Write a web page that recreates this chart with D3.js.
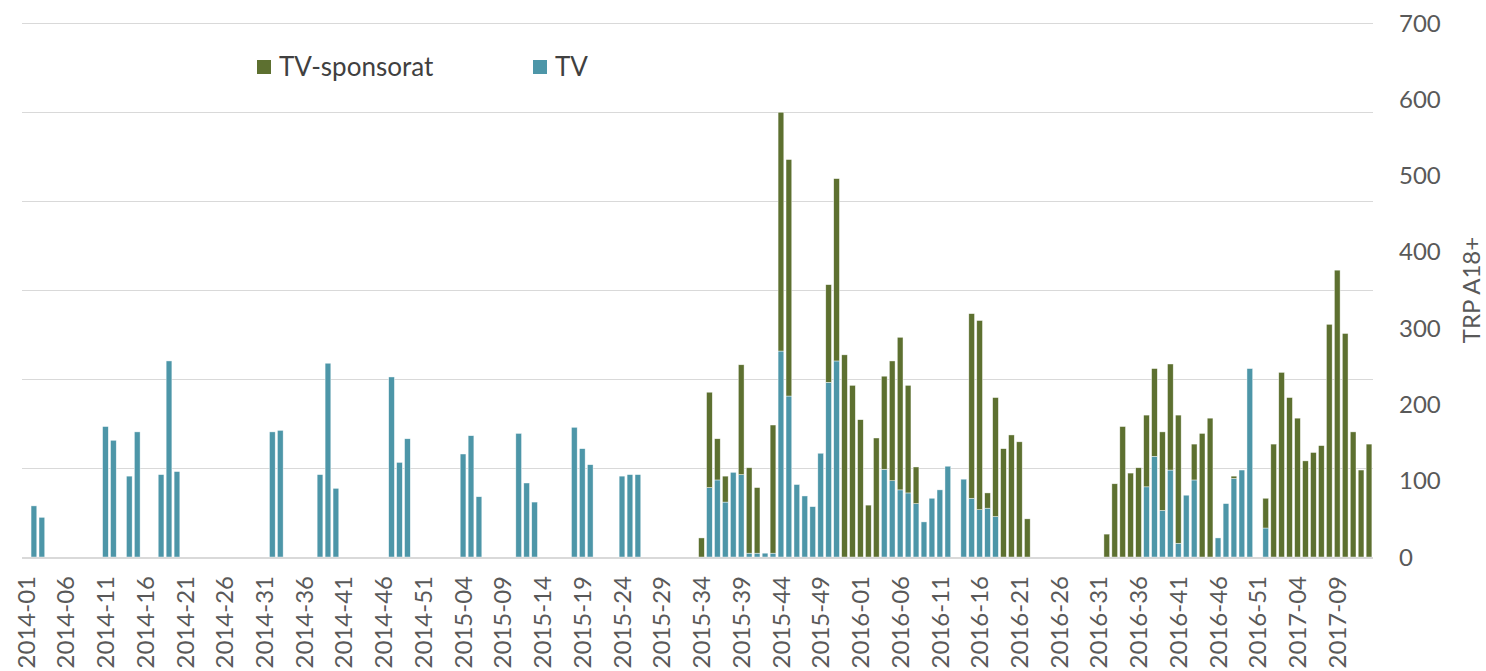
<!DOCTYPE html>
<html>
<head>
<meta charset="utf-8">
<script src="https://cdn.jsdelivr.net/npm/d3@7"></script>
<style>
  html, body { margin: 0; padding: 0; background: #fff; }
  svg { display: block; font-family: Lato, 'Open Sans', sans-serif; }
</style>
</head>
<body>
<div id="chart"></div>
<script>
// weeks per year shown on the category axis (2017 stops at week 13)
const years = [2014, 2015, 2016, 2017];
const weeksInYear = [52, 53, 52, 13];

// tick labels shown every 5th week
const tickLabels = [
  '2014-01','2014-06','2014-11','2014-16','2014-21','2014-26','2014-31','2014-36','2014-41','2014-46','2014-51',
  '2015-04','2015-09','2015-14','2015-19','2015-24','2015-29','2015-34','2015-39','2015-44','2015-49',
  '2016-01','2016-06','2016-11','2016-16','2016-21','2016-26','2016-31','2016-36','2016-41','2016-46','2016-51',
  '2017-04','2017-09'
];

// TRP A18+ per week, TV (bottom of stack)
const tv = [
  // 2014
  0,67,52,0,0,0,0,0,0,0, 171,153,0,106,164,0,0,108,257,112, 0,0,0,0,0,0,0,0,0,0,
  0,164,166,0,0,0,0,108,254,90, 0,0,0,0,0,0,236,124,155,0, 0,0,
  // 2015
  0,0,0,135,159,79,0,0,0,0, 162,97,72,0,0,0,0,170,142,121, 0,0,0,106,108,108,0,0,0,0,
  0,0,0,0,91,101,72,111,108,5, 5,5,5,270,211,95,80,66,136,229, 257,0,0,
  // 2016
  0,0,0,115,100,88,84,70,46,77, 88,119,0,102,77,62,64,53,0,0, 0,0,0,0,0,0,0,0,0,0,
  0,0,0,0,0,0,92,132,61,114, 18,81,101,0,0,25,70,103,114,247, 0,38,
  // 2017
  0,0,0,0,0,0,0,0,0,0, 0,0,0
];

// TRP A18+ per week, TV-sponsorat (top of stack)
const sponsorat = [
  // 2014
  0,0,0,0,0,0,0,0,0,0, 0,0,0,0,0,0,0,0,0,0, 0,0,0,0,0,0,0,0,0,0,
  0,0,0,0,0,0,0,0,0,0, 0,0,0,0,0,0,0,0,0,0, 0,0,
  // 2015
  0,0,0,0,0,0,0,0,0,0, 0,0,0,0,0,0,0,0,0,0, 0,0,0,0,0,0,0,0,0,0,
  0,0,0,25,125,54,34,0,144,112, 86,0,168,313,310,0,0,0,0,128, 239,265,225,
  // 2016
  180,68,156,122,157,200,141,48,0,0, 0,0,0,0,242,248,20,156,142,160, 151,50,0,0,0,0,0,0,0,0,
  0,30,96,171,110,117,94,115,103,139, 168,0,47,162,182,0,0,3,0,0, 0,39,
  // 2017
  148,242,209,182,126,137,146,305,376,293, 164,114,148
];

const seriesNames = ['TV-sponsorat', 'TV'];
const colors = { 'TV-sponsorat': '#5d7030', 'TV': '#4d96a8' };

const rightTicks = [0, 100, 200, 300, 400, 500, 600, 700];
const gridTicks = [0, 100, 200, 300, 400, 500, 600];

// build week categories
const weeks = [];
years.forEach((yr, k) => {
  for (let w = 1; w <= weeksInYear[k]; w++) weeks.push(yr + '-' + String(w).padStart(2, '0'));
});

const rows = weeks.map((wk, i) => ({ week: wk, 'TV': tv[i] || 0, 'TV-sponsorat': sponsorat[i] || 0 }));

const width = 1486, height = 671;
const plotLeft = 22, plotRight = 1373, plotTop = 23, plotBottom = 557;

const svg = d3.select('#chart').append('svg')
  .attr('width', width).attr('height', height);

const x = d3.scaleBand().domain(weeks).range([plotLeft, plotRight]).paddingInner(0.28).paddingOuter(0.14);
const y = d3.scaleLinear().domain([0, 700]).range([plotBottom, plotTop]);
// gridlines follow a hidden primary axis with its own division
const yGrid = d3.scaleLinear().domain([0, 600]).range([plotBottom, plotTop]);

// gridlines
svg.append('g').selectAll('line')
  .data(gridTicks.slice(1))
  .join('line')
  .attr('x1', plotLeft).attr('x2', plotRight)
  .attr('y1', d => yGrid(d) + 0.5).attr('y2', d => yGrid(d) + 0.5)
  .attr('stroke', '#d9d9d9').attr('stroke-width', 1);

// stacked bars
const stack = d3.stack().keys(['TV', 'TV-sponsorat'])(rows);
svg.append('g').selectAll('g')
  .data(stack)
  .join('g')
  .attr('fill', d => colors[d.key])
  .selectAll('rect')
  .data(d => d.filter(p => p[1] - p[0] > 0))
  .join('rect')
  .attr('x', d => x(d.data.week))
  .attr('width', x.bandwidth())
  .attr('y', d => y(d[1]))
  .attr('height', d => y(d[0]) - y(d[1]))
  .attr('stroke', '#ffffff').attr('stroke-width', 0.6).attr('stroke-opacity', 0.7);

// category axis line
svg.append('line')
  .attr('x1', plotLeft).attr('x2', plotRight)
  .attr('y1', plotBottom + 1).attr('y2', plotBottom + 1)
  .attr('stroke', '#d9d9d9').attr('stroke-width', 2);

// category labels
svg.append('g').selectAll('text')
  .data(tickLabels)
  .join('text')
  .attr('transform', d => `translate(${x(d) + x.bandwidth() / 2},576) rotate(-90)`)
  .attr('text-anchor', 'end')
  .attr('dy', '0.36em')
  .attr('fill', '#595959')
  .attr('font-size', '24px')
  .text(d => d);

// right value axis
svg.append('g').selectAll('text')
  .data(rightTicks)
  .join('text')
  .attr('x', 1399)
  .attr('y', d => y(d))
  .attr('dy', '0.36em')
  .attr('fill', '#595959')
  .attr('font-size', '24px')
  .text(d => d);

svg.append('text')
  .attr('transform', `translate(1471,${(plotTop + plotBottom) / 2}) rotate(-90)`)
  .attr('text-anchor', 'middle')
  .attr('dy', '0.36em')
  .attr('fill', '#595959')
  .attr('font-size', '24px')
  .text('TRP A18+');

// legend
const legendX = [257, 533];
const legend = svg.append('g').selectAll('g')
  .data(seriesNames)
  .join('g')
  .attr('transform', (d, i) => `translate(${legendX[i]},60)`);
legend.append('rect').attr('width', 14).attr('height', 14).attr('fill', d => colors[d]);
legend.append('text')
  .attr('x', 22).attr('y', 7).attr('dy', '0.36em')
  .attr('fill', '#404040').attr('font-size', '26px')
  .text(d => d);
</script>
</body>
</html>
